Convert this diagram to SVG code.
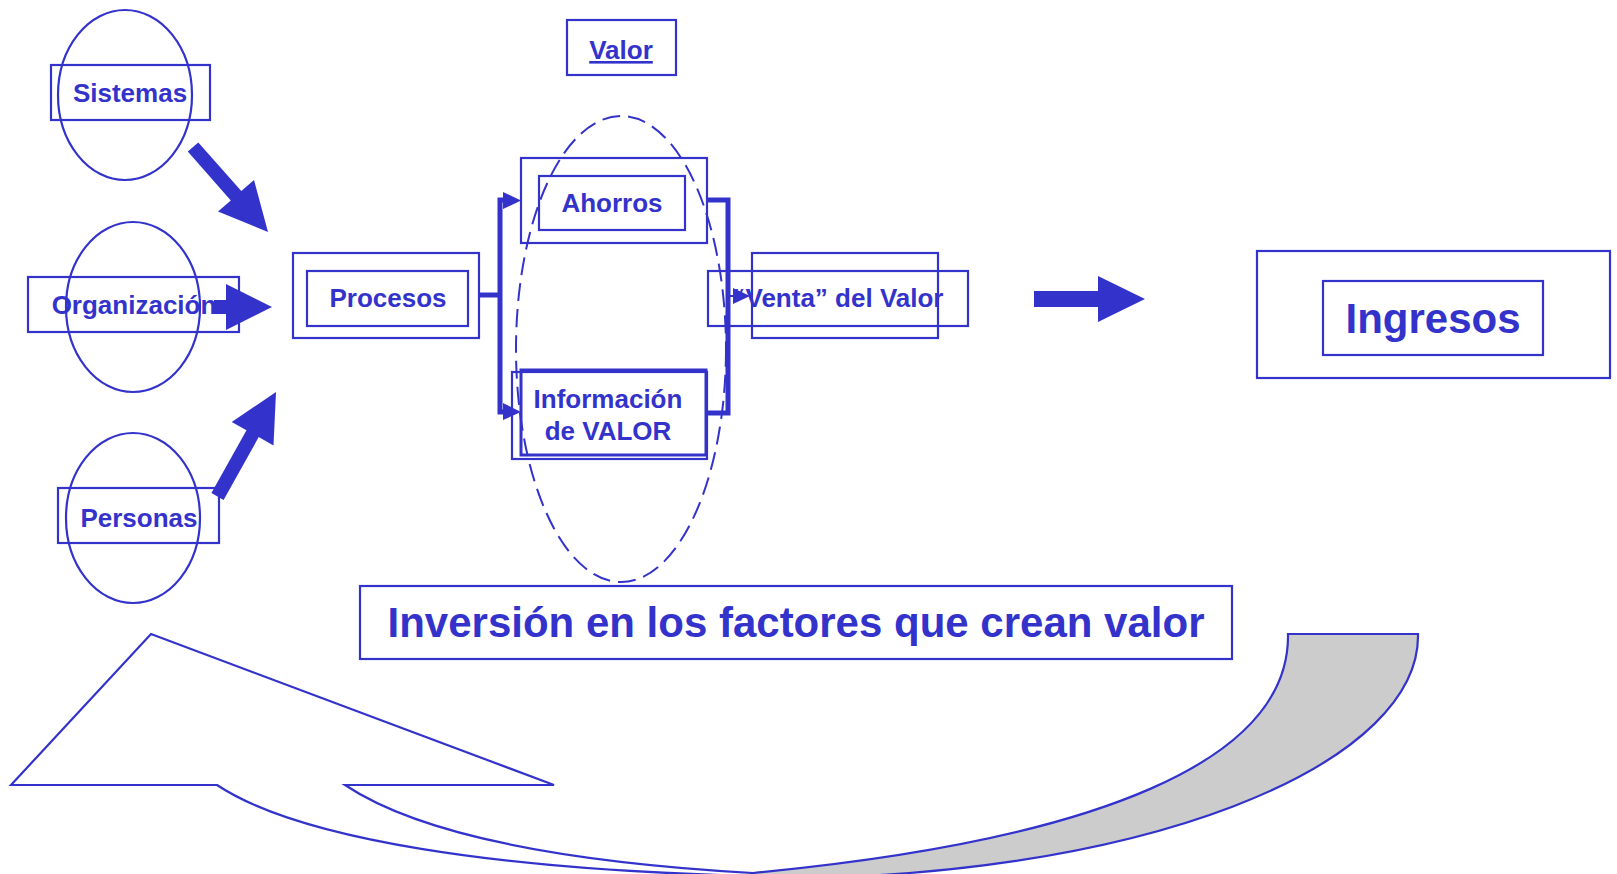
<svg xmlns="http://www.w3.org/2000/svg" width="1617" height="874" viewBox="0 0 1617 874">
<style>
.b{fill:none;stroke:#3333cc;stroke-width:2.2}
.bt{fill:none;stroke:#3333cc;stroke-width:3}
.t{font-family:"Liberation Sans",Arial,sans-serif;font-weight:bold;fill:#3333cc;text-anchor:middle}
.s26{font-size:26px}
.s42{font-size:42px}
.blk{fill:#3333cc;stroke:none}
.ln{fill:none;stroke:#3333cc;stroke-width:5}
</style>
<rect width="1617" height="874" fill="#fff"/>

<g id="curved-arrow">
  <path d="M1288 634 L1418 634 A638 242 0 0 1 780 878 L753 878 L753 873 C1100 840 1290 760 1288 634 Z" fill="#cccccc" stroke="#3333cc" stroke-width="2.2"/>
  <path d="M11 785 L151 634 L554 785 L345 785 C420 835 560 862 753 873 L753 876 C500 870 300 840 217 785 Z" fill="#fff" stroke="#3333cc" stroke-width="2.2"/>
</g>

<g id="sistemas">
  <ellipse class="b" cx="125" cy="95" rx="67" ry="85"/>
  <rect class="b" x="51" y="65" width="159" height="55"/>
  <text class="t s26" x="130" y="102">Sistemas</text>
</g>
<g id="organizacion">
  <ellipse class="b" cx="133" cy="307" rx="67" ry="85"/>
  <rect class="b" x="28" y="277" width="211" height="55"/>
  <text class="t s26" x="134" y="314">Organización</text>
</g>
<g id="personas">
  <ellipse class="b" cx="133" cy="518" rx="67" ry="85"/>
  <rect class="b" x="58" y="488" width="161" height="55"/>
  <text class="t s26" x="139" y="527">Personas</text>
</g>

<g id="valor">
  <rect class="b" x="567" y="20" width="109" height="55"/>
  <text class="t s26" x="621" y="59" text-decoration="underline">Valor</text>
</g>

<g id="valor-ellipse">
  <ellipse cx="621" cy="349" rx="105" ry="233" fill="none" stroke="#3333cc" stroke-width="2" stroke-dasharray="18 8"/>
</g>

<g id="procesos">
  <rect class="b" x="293" y="253" width="186" height="85"/>
  <rect class="b" x="307" y="271" width="161" height="55"/>
  <text class="t s26" x="388" y="307">Procesos</text>
</g>

<g id="ahorros">
  <rect class="b" x="521" y="158" width="186" height="85"/>
  <rect class="b" x="539" y="176" width="146" height="54"/>
  <text class="t s26" x="612" y="212">Ahorros</text>
</g>

<g id="informacion">
  <rect class="b" x="512" y="372" width="195" height="87"/>
  <rect class="bt" x="521" y="370" width="185" height="85"/>
  <text class="t s26" x="608" y="408">Información</text>
  <text class="t s26" x="608" y="440">de VALOR</text>
</g>

<g id="connectors">
  <polygon class="blk" points="187.8,151.6 198.3,142.4 241.3,191.1 254,179.9 268,232 218,211.6 230.8,200.4"/>
  <polygon class="blk" points="214,300 226,300 226,284 272,307 226,330 226,314 214,314"/>
  <polygon class="blk" points="211.4,493.1 246.5,430.3 231.7,422 276,392 273.5,445.4 258.7,437.1 223.6,499.9"/>
  <polyline class="ln" points="479,295 500,295"/>
  <polyline class="ln" points="505,200 500,200 500,412 505,412"/>
  <polygon class="blk" points="503,192 521,200.5 503,209"/>
  <polygon class="blk" points="503,403 521,412 503,420"/>
  <polyline class="ln" points="707,200 728,200 728,413 707,413"/>
  <line x1="728" y1="296" x2="735" y2="296" stroke="#3333cc" stroke-width="2"/>
  <polygon class="blk" points="733,288 750,296 733,304"/>
  <polygon class="blk" points="1034,291 1098,291 1098,276 1145,299 1098,322 1098,307 1034,307"/>
</g>

<g id="venta">
  <rect class="b" x="708" y="271" width="260" height="55"/>
  <rect class="b" x="752" y="253" width="186" height="85"/>
  <text class="t s26" x="838" y="307">“Venta” del Valor</text>
</g>

<g id="ingresos">
  <rect class="b" x="1257" y="251" width="353" height="127"/>
  <rect class="b" x="1323" y="281" width="220" height="74"/>
  <text class="t s42" x="1433" y="333">Ingresos</text>
</g>

<g id="inversion">
  <rect class="b" x="360" y="586" width="872" height="73"/>
  <text class="t s42" x="796" y="637">Inversión en los factores que crean valor</text>
</g>
</svg>
